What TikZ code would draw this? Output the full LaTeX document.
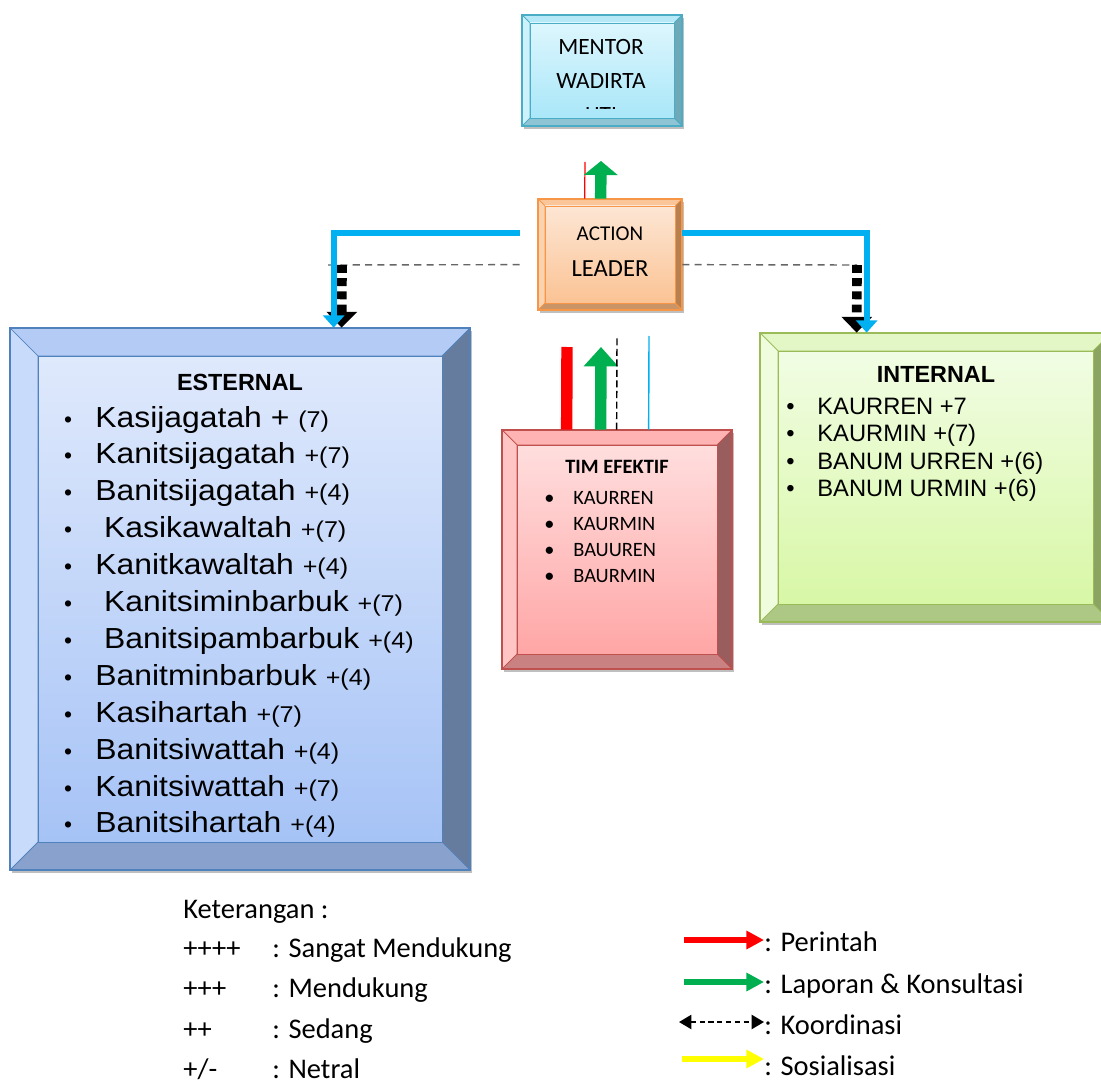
\documentclass[tikz,border=0pt]{standalone}
\usepackage{fontspec}
\setmainfont{Carlito}
\newfontfamily\arialfont{Liberation Sans}
\newfontfamily\arialwide[FakeStretch=1.1]{Liberation Sans}
\usepackage{xcolor}
\usepackage{tikz}
\usetikzlibrary{arrows.meta,calc,fit}

\definecolor{lineblue}{HTML}{00B0F0}
\definecolor{linegreen}{HTML}{00B050}
\definecolor{linered}{HTML}{FF0000}
\definecolor{lineyellow}{HTML}{FFFF00}
% mentor box
\definecolor{mentorline}{HTML}{4BACC6}
\definecolor{mentortop}{HTML}{B6E9F7}
\definecolor{mentorleft}{HTML}{CDF2FC}
\definecolor{mentorright}{HTML}{6FA8B7}
\definecolor{mentorbot}{HTML}{8EC4D3}
\definecolor{mentorin1}{HTML}{DDF6FD}
\definecolor{mentorin2}{HTML}{A9E7F9}
% action leader box
\definecolor{leaderline}{HTML}{F79646}
\definecolor{leadertop}{HTML}{FBC59A}
\definecolor{leaderleft}{HTML}{FCD3B0}
\definecolor{leaderright}{HTML}{B8804F}
\definecolor{leaderbot}{HTML}{CB9466}
\definecolor{leaderin1}{HTML}{FDE6D4}
\definecolor{leaderin2}{HTML}{FBC394}
% esternal box
\definecolor{esterline}{HTML}{4F81BD}
\definecolor{estertop}{HTML}{B4CCF5}
\definecolor{esterleft}{HTML}{C9DBFA}
\definecolor{esterright}{HTML}{667C9F}
\definecolor{esterbot}{HTML}{88A1CD}
\definecolor{esterin1}{HTML}{DFE9FC}
\definecolor{esterin2}{HTML}{A6C3F6}
% tim efektif box
\definecolor{timefline}{HTML}{C0504D}
\definecolor{timeftop}{HTML}{FFB3B3}
\definecolor{timefleft}{HTML}{FFC5C5}
\definecolor{timefright}{HTML}{9A5D5D}
\definecolor{timefbot}{HTML}{C98181}
\definecolor{timefin1}{HTML}{FFDEDE}
\definecolor{timefin2}{HTML}{FFA6A6}
% internal box
\definecolor{interline}{HTML}{9BBB59}
\definecolor{intertop}{HTML}{E3F6C6}
\definecolor{interleft}{HTML}{EFFCDD}
\definecolor{interright}{HTML}{8BA462}
\definecolor{interbot}{HTML}{ADC784}
\definecolor{interin1}{HTML}{F1FDE4}
\definecolor{interin2}{HTML}{D8F7A6}

% #1 name, #2 colour prefix, #3 x1, #4 y1, #5 x2, #6 y2, #7 bevel
\newcommand{\bevelbox}[7]{%
  \fill[black!25] (#3+2,#4+3) rectangle (#5+2,#6+3);
  \filldraw[draw=#2line, fill=#2top] (#3,#4) -- (#5,#4) -- (#5-#7,#4+#7) -- (#3+#7,#4+#7) -- cycle;
  \filldraw[draw=#2line, fill=#2left] (#3,#4) -- (#3+#7,#4+#7) -- (#3+#7,#6-#7) -- (#3,#6) -- cycle;
  \filldraw[draw=#2line, fill=#2right] (#5,#4) -- (#5,#6) -- (#5-#7,#6-#7) -- (#5-#7,#4+#7) -- cycle;
  \filldraw[draw=#2line, fill=#2bot] (#3,#6) -- (#5,#6) -- (#5-#7,#6-#7) -- (#3+#7,#6-#7) -- cycle;
  \shadedraw[top color=#2in1, bottom color=#2in2, draw=#2line] (#3+#7,#4+#7) rectangle (#5-#7,#6-#7);
  \draw[#2line, line width=1.2pt] (#3,#4) rectangle (#5,#6);
  \node[fit={(#3,#4) (#5,#6)}, inner sep=0pt] (#1) {};
}

\tikzset{
  bluearrow/.style={draw=lineblue, line width=3.4pt, -{Triangle[length=7pt,width=12pt]}},
  koorthin/.style={draw=black!60, line width=0.8pt, dash pattern=on 4pt off 3pt},
  koorthick/.style={draw=black, line width=5.5pt, dash pattern=on 4.5pt off 3pt, -{Triangle[length=9pt,width=17pt]}},
  greenarrow/.style={draw=linegreen, line width=6.5pt, -{Triangle[length=#1,width=19pt]}},
  greenarrow/.default=8pt,
  boxtxt/.style={inner sep=0pt, font=\fontsize{13.3}{16}\selectfont},
  esitem/.style={anchor=base west, inner sep=0pt, font=\arialwide\fontsize{16.5}{20}\selectfont},
  esbullet/.style={anchor=base, inner sep=0pt, font=\arialfont\fontsize{13}{16}\selectfont},
  title/.style={inner sep=0pt, font=\arialfont\bfseries\fontsize{13.3}{16}\selectfont},
  initem/.style={anchor=base west, inner sep=0pt, font=\arialfont\fontsize{13.5}{16}\selectfont},
  tmitem/.style={anchor=base west, inner sep=0pt, font=\fontsize{11.6}{14}\selectfont},
  legtxt/.style={anchor=base west, inner sep=0pt, font=\fontsize{16.2}{19}\selectfont},
  legarrow/.style={line width=3.4pt, -{Triangle[length=10pt,width=10pt]}},
}

\begin{document}
\begin{tikzpicture}[x=0.02cm, y=-0.02cm]
\clip (0,0) rectangle (1101,1084);
\fill[white] (0,0) rectangle (1101,1084);

% boxes
\bevelbox{mentor}{mentor}{522}{15}{682}{126}{8}
\bevelbox{leader}{leader}{538}{199}{682}{310}{7}
\bevelbox{ester}{ester}{10}{328}{470}{870}{28}
\bevelbox{timef}{timef}{502}{430}{732}{669}{15}
\bevelbox{inter}{inter}{760}{333}{1111}{622}{18}

% box texts
\node[boxtxt] (mentor1) at (601,47) {MENTOR};
\node[boxtxt] (mentor2) at (601,81) {WADIRTA};
\begin{scope}
  \clip (530,23) rectangle (675,109);
  \node[boxtxt] (mentor3) at (601,115) {HTI};
\end{scope}
\node[boxtxt, font=\fontsize{12}{14}\selectfont] (action) at (610,234) {ACTION};
\node[boxtxt, font=\fontsize{14}{17}\selectfont] (leadertxt) at (610,269) {LEADER};

\node[title] (estitle) at (240,382) {ESTERNAL};
\foreach \nm/\sc [count=\i] in {Kasijagatah +/(7), Kanitsijagatah/+(7),
    Banitsijagatah/+(4), \ Kasikawaltah/+(7), Kanitkawaltah/+(4),
    \ Kanitsiminbarbuk/+(7), \ Banitsipambarbuk/+(4), Banitminbarbuk/+(4),
    Kasihartah/+(7), Banitsiwattah/+(4), Kanitsiwattah/+(7), Banitsihartah/+(4)} {
  \node[esbullet] (esb\i) at (68,{427+36.9*(\i-1)}) {•};
  \node[esitem] (es\i) at (95,{427+36.9*(\i-1)}) {\nm\ {\fontsize{13}{16}\selectfont\sc}};
}

\node[title] (intitle) at (936,374) {INTERNAL};
\foreach \nm [count=\i] in {KAURREN +7, KAURMIN +(7), BANUM URREN +(6), BANUM URMIN +(6)} {
  \node[initem] (inb\i) at (786,{414+27.6*(\i-1)}) {•};
  \node[initem] (in\i) at (817,{414+27.6*(\i-1)}) {\nm};
}

\node[boxtxt, font=\bfseries\fontsize{11.6}{14}\selectfont] (tmtitle) at (617,467) {TIM EFEKTIF};
\foreach \nm [count=\i] in {KAURREN, KAURMIN, BAUUREN, BAURMIN} {
  \node[tmitem] (tmb\i) at (544,{504+26*(\i-1)}) {•};
  \node[tmitem] (tm\i) at (573,{504+26*(\i-1)}) {\nm};
}

% connectors
\coordinate (kl) at (326,265);
\coordinate (kr) at (857,265);
\draw[koorthin] ($(leader.north west)+(-18,66)$) -- (kl);
\draw[koorthin] ($(leader.north east)+(0,66)$) -- (kr);
\draw[koorthick] ($(kl)+(16,0)$) -- ($(ester.north west)+(332,0)$);
\draw[koorthick] (kr) -- ($(inter.north west)+(97,0)$);
\draw[bluearrow] ($(leader.north west)+(-18,34)$) -| ($(ester.north west)+(324,0)$);
\draw[bluearrow] ($(leader.north east)+(0,34)$) -| ($(inter.north west)+(107,0)$);

\coordinate (redtop) at (585,162);
\coordinate (greentop) at (601,161);
\draw[linered, line width=0.7pt] ($(leader.north west)+(47,0)$) -- (redtop);
\draw[greenarrow] ($(leader.north west)+(63,0)$) -- (greentop);

\coordinate (redmid) at (567,347);
\coordinate (greenmid) at (601,347);
\coordinate (blackmid) at (617,336);
\coordinate (bluemid) at (649,336);
\draw[linered, line width=6.5pt] ($(timef.north west)+(65,0)$) -- (redmid);
\draw[greenarrow=11pt] ($(timef.north west)+(99,0)$) -- (greenmid);
\draw[black, line width=0.8pt, dash pattern=on 4pt off 2pt] ($(timef.north west)+(115,0)$) -- (blackmid);
\draw[lineblue, line width=0.8pt] ($(timef.north west)+(147,0)$) -- (bluemid);

% keterangan
\node[legtxt] (ket) at (183,918) {Keterangan :};
\foreach \sym/\desc [count=\i] in {++++/Sangat Mendukung, +++/Mendukung, ++/Sedang, {+/-}/Netral} {
  \node[legtxt] (sym\i) at (183,{957+40.5*(\i-1)}) {\sym};
  \node[legtxt] (desc\i) at (272,{957+40.5*(\i-1)}) {: \desc};
}

\node[legtxt] (lperintah) at (764,951) {: Perintah};
\node[legtxt] (llaporan) at (764,993) {: Laporan \& Konsultasi};
\node[legtxt] (lkoord) at (764,1034) {: Koordinasi};
\node[legtxt] (lsosial) at (764,1075) {: Sosialisasi};
\coordinate (ra) at (684,940);
\coordinate (ga) at (684,982);
\coordinate (ka) at (679,1022);
\coordinate (ya) at (682,1059);
\draw[legarrow, linered] (ra) -- (ra -| lperintah.west);
\draw[legarrow, linegreen] (ga) -- (ga -| llaporan.west);
\draw[black, line width=1.1pt, dash pattern=on 3pt off 2pt,
  {Triangle[length=7pt,width=8pt]}-{Triangle[length=7pt,width=8pt]}] (ka) -- (ka -| lkoord.west);
\draw[legarrow, lineyellow] (ya) -- (ya -| lsosial.west);
\end{tikzpicture}
\end{document}
